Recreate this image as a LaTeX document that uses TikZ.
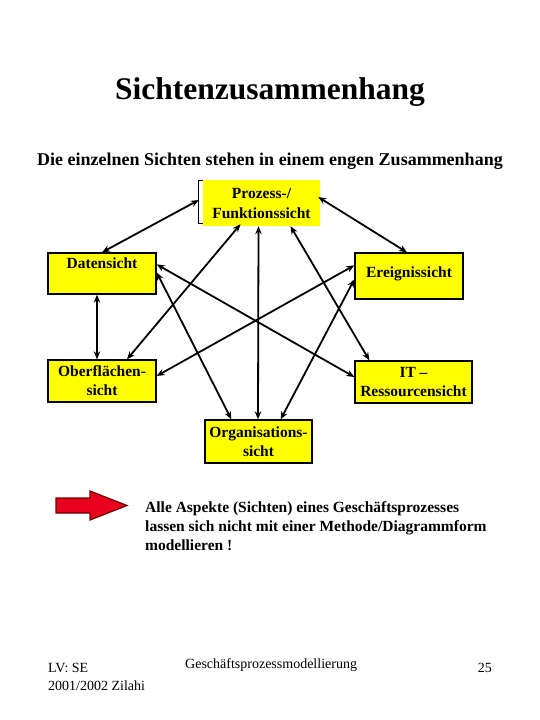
\documentclass[tikz,border=0pt]{standalone}
\usepackage{fontspec}
\setmainfont{Liberation Serif}
\usepackage{xcolor}
\usetikzlibrary{calc, positioning, arrows.meta}
\definecolor{boxyellow}{RGB}{255,255,0}
\definecolor{arrowred}{RGB}{232,0,28}
\definecolor{arrowdark}{RGB}{110,0,0}
\tikzset{sicht/.style={draw, line width=1.3pt, fill=boxyellow, align=center, inner sep=0pt,
 font=\bfseries\fontsize{15.5}{19}\selectfont},
link/.style={<->, >={Stealth[length=8pt,width=6.5pt]}, line width=1.8pt}}

\begin{document}
\begin{tikzpicture}[x=1pt,y=-1pt]
 \useasboundingbox (0,0) rectangle (540,720);
 %Drawing Headings
 \node (title) [anchor=base, font=\bfseries\fontsize{31.5}{36}\selectfont] at (270,99) {Sichtenzusammenhang};
 \node (subtitle) [anchor=base, font=\bfseries\fontsize{18}{22}\selectfont] at (270,165) {Die einzelnen Sichten stehen in einem engen Zusammenhang};
 
 %Drawing the views
 \node[fill=boxyellow, align=center, inner sep=0pt, minimum width=117, minimum height=46,
 font=\bfseries\fontsize{15.5}{20}\selectfont] (proz) at (261.5,203) {Prozess-/\\Funktionssicht};
 \draw[line width=1.3pt] ($(proz.north west)+(0,1)$) -- ++(-4,0) |- ($(proz.south west)+(0,-3)$);
 
 \node[sicht, minimum width=108, minimum height=41, text depth=20pt] (daten) at (102,273.5) {Datensicht};
 \node[sicht, minimum width=108, minimum height=46, text depth=8pt] (ereig) at (409,276) {Ereignissicht};
 \node[sicht, minimum width=108, minimum height=42] (oberf) at (102,381) {Oberflächen-\\sicht};
 \node[sicht, minimum width=117, minimum height=42] (itres) at (413.5,382) {IT --\\Ressourcensicht};
 \node[sicht, minimum width=107, minimum height=43] (org) at (258.5,441.5) {Organisations-\\sicht};
 
 %Drawing the links
 \draw[link] ($(proz.west)+(-4,-3)$) -- (daten.north);
 \draw[link] ($(proz.east)+(-2,-6)$) -- ($(ereig.north)+(-2,0)$);
 \draw[link] ($(proz.south)+(-21,-2)$) -- ($(oberf.north)+(25,0)$);
 \draw[link] ($(proz.south)+(-3,0)$) -- ($(org.north)+(-0.5,0)$);
 \draw[link] ($(proz.south)+(29,0)$) -- ($(itres.north west)+(15,0)$);
 \draw[link] ($(daten.north east)+(0,12)$) -- ($(itres.west)+(0,-5)$);
 \draw[link] ($(daten.north east)+(0,20)$) -- ($(org.north west)+(27,0)$);
 \draw[link] ($(ereig.north west)+(0,13)$) -- ($(oberf.east)+(0,-5)$);
 \draw[link] ($(ereig.north west)+(0,27)$) -- ($(org.north east)+(-32,0)$);
 \draw[link] ($(daten.south)+(-5,0)$) -- ($(oberf.north)+(-5,0)$);
 
 %Drawing the note
 \draw[fill=arrowred, draw=arrowdark, line width=1.2pt] (56,498) -- (90,498) -- (90,491) -- (127,505.5)
 -- (90,520) -- (90,513) -- (56,513) -- cycle;
 \node (note) [anchor=base west, align=left, inner sep=0pt, font=\bfseries\fontsize{15.5}{19}\selectfont] at (145,550)
 {Alle Aspekte (Sichten) eines Geschäftsprozesses\\
 lassen sich nicht mit einer Methode/Diagrammform\\ modellieren !};
 
 %Drawing the footer
 \node (lv) [anchor=base west, align=left, inner sep=0pt, font=\fontsize{14}{18}\selectfont] at (48,690)
 {LV: SE\\2001/2002 Zilahi};
 \node (course) [anchor=base west, inner sep=0pt, font=\fontsize{14}{18}\selectfont] at (185,668) {Geschäftsprozessmodellierung};
 \node (page) [anchor=base east, inner sep=0pt, font=\fontsize{14}{18}\selectfont] at (492,672) {25};
\end{tikzpicture}
\end{document}
